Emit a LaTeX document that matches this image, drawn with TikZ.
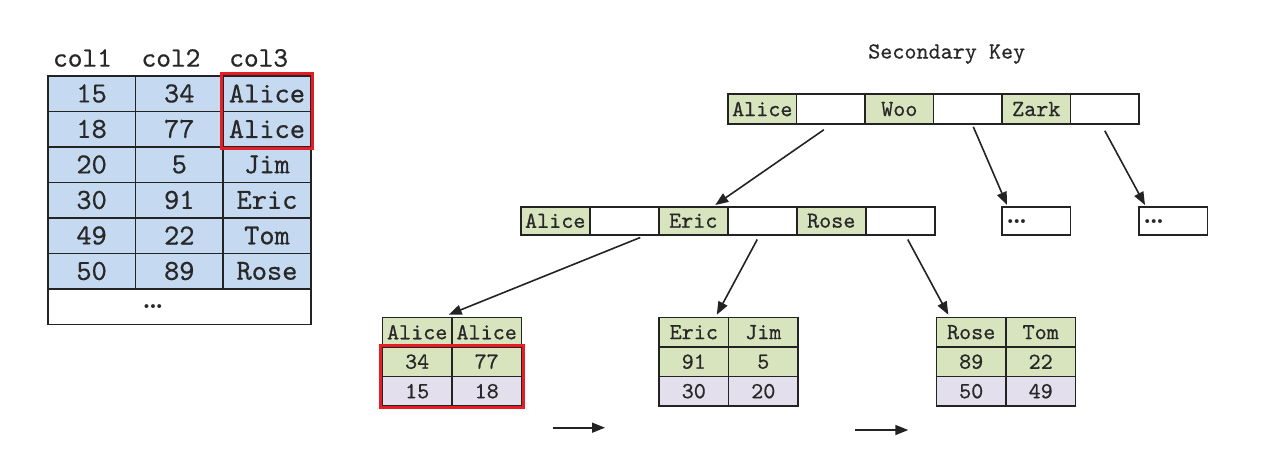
\documentclass[tikz,border=0pt]{standalone}
\usepackage{fontspec}
\setmonofont{lmmono10-regular.otf}[FakeBold=0.6]
\usetikzlibrary{arrows.meta,calc}
\definecolor{cblue}{RGB}{197,217,241}
\definecolor{cgreen}{RGB}{215,228,189}
\definecolor{cpurple}{RGB}{228,223,236}
\definecolor{cline}{RGB}{35,35,35}
\definecolor{ctext}{RGB}{40,40,40}
\definecolor{cred}{RGB}{232,28,36}
\newcommand{\mydots}{\textbf{.\kern-0.08em.\kern-0.08em.}}
\tikzset{
  base/.style={draw=cline, line width=1.5pt, inner sep=0pt, anchor=north west, text=ctext},
  tcell/.style={base, fill=cblue, minimum width=87.7pt, minimum height=35.5pt,
    font=\fontsize{29}{30}\selectfont\ttfamily},
  hdr/.style={text=ctext, inner sep=0pt, font=\fontsize{28}{30}\selectfont\ttfamily},
  kcell/.style={base, minimum width=68.5pt, minimum height=30pt,
    font=\fontsize{23}{25}\selectfont\ttfamily},
  mcell/.style={base, minimum width=69pt, minimum height=28pt,
    font=\fontsize{23}{25}\selectfont\ttfamily},
  lcell/.style={base, minimum width=70pt, minimum height=29.5pt,
    font=\fontsize{23}{25}\selectfont\ttfamily},
  dots/.style={inner sep=0pt, text=ctext, font=\fontsize{27}{27}\selectfont},
  ttl/.style={inner sep=0pt, text=ctext, font=\fontsize{23}{25}\selectfont\ttfamily},
  redbox/.style={draw=cred, line width=3pt},
  arr/.style={draw=cline, line width=1.6pt, -{Triangle[length=13pt,width=10pt]}},
}
\begin{document}
\begin{tikzpicture}[x=1pt,y=-1pt]
\useasboundingbox (0,0) rectangle (1267,466);
% ---------- table ----------
\node[hdr] (h1) at (82.5,58) {col1};
\node[hdr] (h2) at (171,58) {col2};
\node[hdr] (h3) at (258.7,58) {col3};
\foreach \a/\b/\c [count=\i] in {15/34/Alice,18/77/Alice,20/5/Jim,30/91/Eric,49/22/Tom,50/89/Rose} {
  \node[tcell] (t\i a) at (47,{75+35.5*(\i-1)}) {\a};
  \node[tcell] (t\i b) at (134.7,{75+35.5*(\i-1)}) {\b};
  \node[tcell] (t\i c) at (222.4,{75+35.5*(\i-1)}) {\c};
}
\node[tcell, fill=white, minimum width=263.1pt] (t7) at (47,288) {};
\node[dots, anchor=base] (tdots) at (153,308.5) {\mydots};
\draw[redbox] ($(t1c.north west)+(-1,-2)$) rectangle ($(t2c.south east)+(1,1)$);
% ---------- title ----------
\node[ttl] (title) at (946.7,54) {Secondary Key};
% ---------- root ----------
\foreach \t/\f [count=\i] in {Alice/cgreen,/white,Woo/cgreen,/white,Zark/cgreen,/white} {
  \node[kcell, fill=\f] (k\i) at ({727.3+68.5*(\i-1)},93.3) {\t};
}
% ---------- middle ----------
\foreach \t/\f [count=\i] in {Alice/cgreen,/white,Eric/cgreen,/white,Rose/cgreen,/white} {
  \node[mcell, fill=\f] (m\i) at ({520+69*(\i-1)},206) {\t};
}
\node[mcell, fill=white, minimum width=68.5pt] (e1) at (1001,206) {};
\node[dots, anchor=base west] (e1d) at (1006,223) {\mydots};
\node[mcell, fill=white, minimum width=68.5pt] (e2) at (1138,206) {};
\node[dots, anchor=base west] (e2d) at (1143,223) {\mydots};
% ---------- leaves ----------
\foreach \x/\p/\q/\r/\s/\u/\v [count=\j] in
  {381.7/Alice/Alice/34/77/15/18, 658.3/Eric/Jim/91/5/30/20, 935.7/Rose/Tom/89/22/50/49} {
  \node[lcell, fill=cgreen, minimum width=69.5pt] (l\j11) at (\x,316.7) {\p};
  \node[lcell, fill=cgreen, minimum width=69.5pt] (l\j12) at (\x+69.5,316.7) {\q};
  \node[lcell, fill=cgreen, minimum width=69.5pt] (l\j21) at (\x,346.2) {\r};
  \node[lcell, fill=cgreen, minimum width=69.5pt] (l\j22) at (\x+69.5,346.2) {\s};
  \node[lcell, fill=cpurple, minimum width=69.5pt] (l\j31) at (\x,375.7) {\u};
  \node[lcell, fill=cpurple, minimum width=69.5pt] (l\j32) at (\x+69.5,375.7) {\v};
}
\draw[redbox] ($(l121.north west)+(-1,-1)$) rectangle ($(l132.south east)+(1,1)$);
% ---------- arrows ----------
\draw[arr] ($(k2.south)+(-7,5)$) -- ($(m3.north)+(22,-1)$);
\draw[arr] ($(k4.south)+(5.5,2)$) -- ($(e1.north west)+(6,-1)$);
\draw[arr] ($(k6.south)+(0,6)$) -- ($(e2.north west)+(7,-1)$);
\draw[arr] ($(m2.south)+(16,2)$) -- ($(l111.north east)+(-4,-2)$);
\draw[arr] ($(m4.south)+(-5,4)$) -- ($(l211.north)+(23,-2)$);
\draw[arr] ($(m6.south)+(7.5,4)$) -- ($(l311.north west)+(12.6,-2)$);
\coordinate (s1) at (552.7,427.7);
\coordinate (s2) at (605,427.7);
\coordinate (s3) at (855,430);
\coordinate (s4) at (908.3,430);
\draw[arr] (s1) -- (s2);
\draw[arr] (s3) -- (s4);
\end{tikzpicture}
\end{document}
